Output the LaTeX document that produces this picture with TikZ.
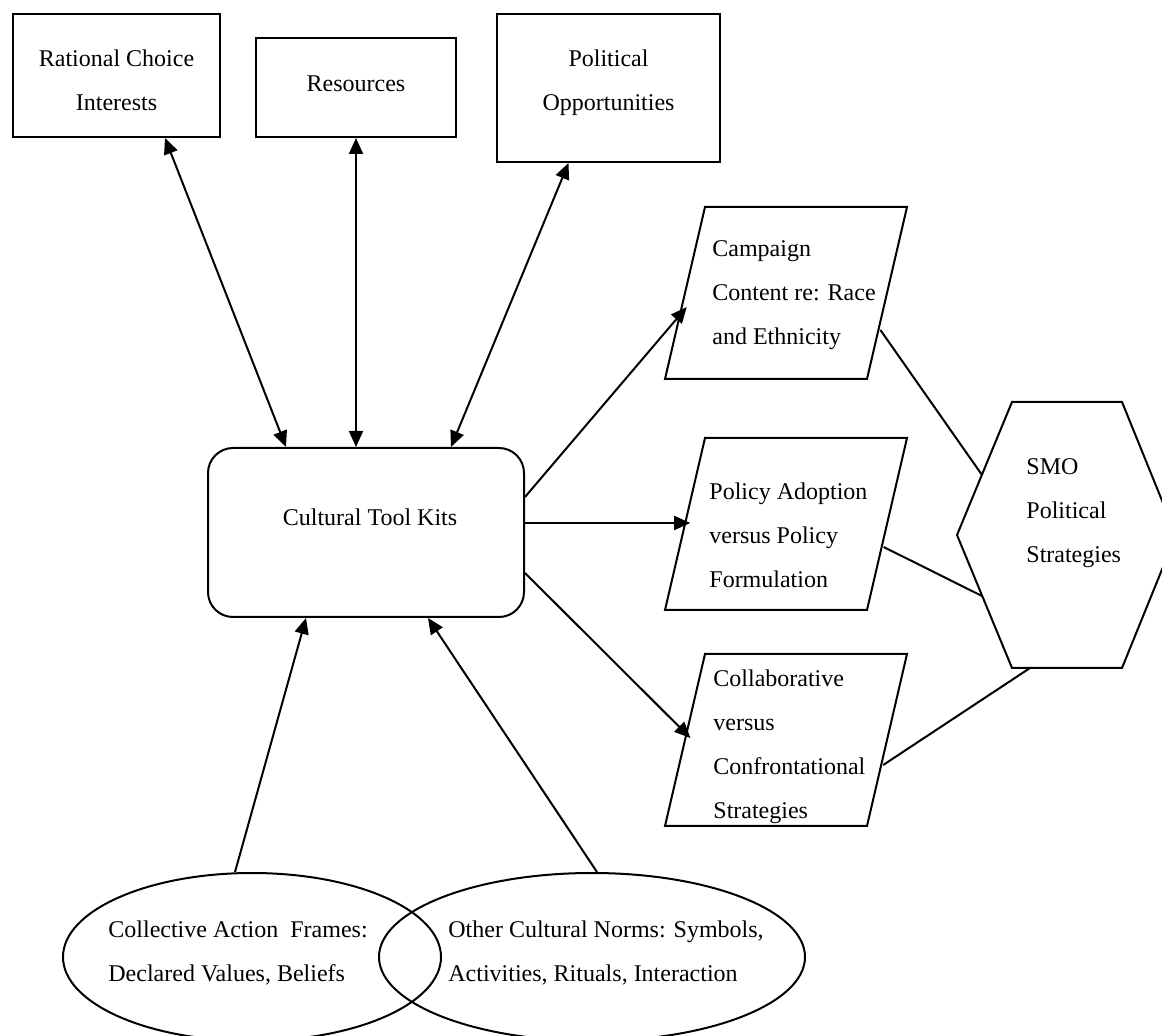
\documentclass[tikz,border=0pt]{standalone}
\usepackage{fontspec}
\setmainfont{Liberation Serif}
\usetikzlibrary{arrows.meta,shapes.geometric}
\tikzset{
  >={Triangle[length=8pt,width=7pt]},
  every picture/.style={line join=miter},
  lbl/.style={font=\fontsize{12}{22}\selectfont, inner sep=0pt},
  txt/.style={lbl, align=left, anchor=west},
  box/.style={draw, line width=1pt},
  plain/.style={line width=1pt},
  link/.style={line width=1pt, ->},
  twoway/.style={line width=1pt, <->},
}

\begin{document}
\begin{tikzpicture}[x=0.5pt, y=-0.5pt,
  oval/.style={draw, ellipse, line width=1pt, minimum height=84pt},
]
\useasboundingbox (0,0) rectangle (1162,1036);

% top row
\node[box, minimum width=103.5pt, minimum height=61.5pt] (rational) at (116.5,75.5) {};
\node[box, minimum width=100pt, minimum height=49.5pt] (resources) at (356,87.5) {};
\node[box, minimum width=111.5pt, minimum height=74pt] (political) at (608.5,88) {};
\node[lbl, align=center] (rationallbl) at (116.5,80.5) {Rational Choice\\Interests};
\node[lbl] (resourceslbl) at (356,83.5) {Resources};
\node[lbl, align=center] (politicallbl) at (608.5,83) {Political\\Opportunities};

\node[box, rounded corners=12.5pt, minimum width=158pt, minimum height=84.5pt] (ctk) at (366,532.5) {};
\node[lbl] (ctklbl) at (370,517) {Cultural Tool Kits};

% outcomes
\foreach \t/\i/\o/\nm in {207/100/123/campaign, 438/85/109/policy, 654/84/111/collab} {
  \draw[plain] (705,\t) -- ++(202,0) -- ++(-40,172) -- ++(-202,0) -- cycle;
  \coordinate (\nm-in) at ({710-40*\i/172},\t+\i);
  \coordinate (\nm-out) at ({909-40*\o/172},\t+\o);
}
\node[txt] (campaign) at (712,295) {Campaign\\Content re: Race\\and Ethnicity};
\node[txt] (policy) at (709,535) {Policy Adoption\\versus Policy\\Formulation};
\node[txt] (collab) at (713,746.5) {Collaborative\\versus\\Confrontational\\Strategies};

\draw[plain] (957,535) -- (1012,402) -- (1122,402) -- (1176,535) -- (1122,668) -- (1012,668) -- cycle;
\coordinate (smo-a) at (982,475);
\coordinate (smo-b) at (982,596);
\coordinate (smo-c) at (1030,668);
\node[txt] (smo) at (1026,513) {SMO\\Political\\Strategies};

% culture
\node[oval, minimum width=189pt] (frames) at (252,957) {};
\node[oval, minimum width=213pt] (norms) at (592,957) {};
\node[txt] (frameslbl) at (108,953) {Collective Action~ Frames:\\Declared Values, Beliefs};
\node[txt] (normslbl) at (448,953) {Other Cultural Norms: Symbols,\\Activities, Rituals, Interaction};

\draw[twoway] ([xshift=-40pt]ctk.north) -- ([xshift=24.25pt]rational.south);
\draw[twoway] (resources.south |- ctk.north) -- (resources.south);
\draw[twoway] ([xshift=42.5pt]ctk.north) -- ([xshift=-20pt]political.south);

\draw[link] ([yshift=17.75pt]ctk.east) -- (campaign-in);
\draw[link] (ctk.east |- policy-in) -- (policy-in);
\draw[link] ([yshift=-20.25pt]ctk.east) -- (collab-in);

\draw[plain] (campaign-out) -- (smo-a);
\draw[plain] (policy-out) -- (smo-b);
\draw[plain] (collab-out) -- (smo-c);

\draw[link] ([xshift=-8.5pt]frames.north) -- ([xshift=-30pt]ctk.south);
\draw[link] ([xshift=2.5pt]norms.north) -- ([xshift=31pt]ctk.south);
\end{tikzpicture}
\end{document}
